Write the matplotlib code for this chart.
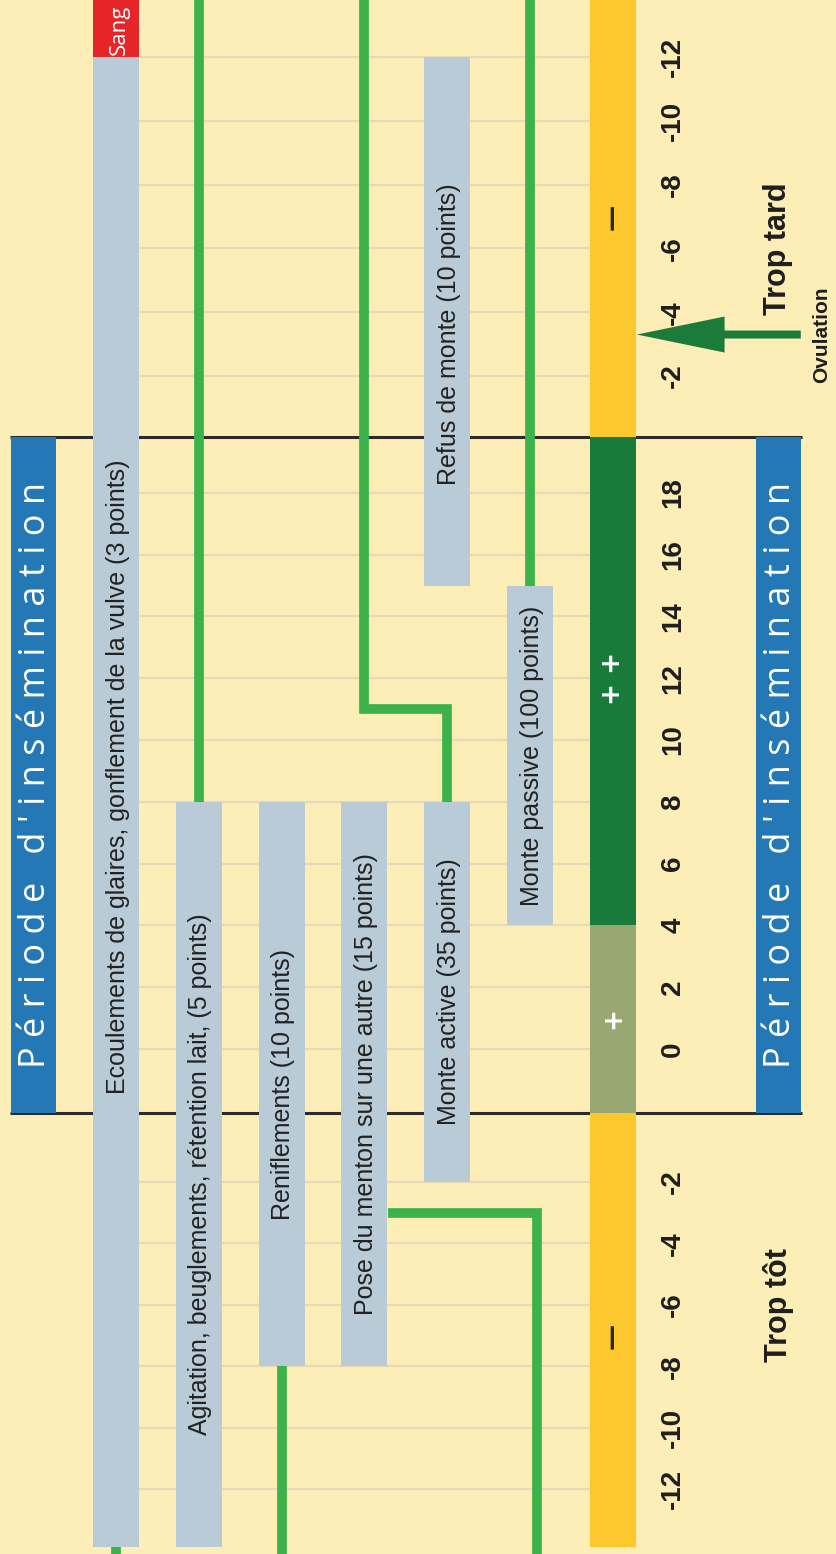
import matplotlib.pyplot as plt
from matplotlib.patches import FancyArrow

# ---- data -------------------------------------------------------------
early_ticks = [-12, -10, -8, -6, -4, -2]
insem_ticks = [0, 2, 4, 6, 8, 10, 12, 14, 16, 18]
late_ticks = [-2, -4, -6, -8, -10, -12]

sign_labels = [
    "Ecoulements de glaires, gonflement de la vulve (3 points)",
    "Agitation, beuglements, rétention lait, (5 points)",
    "Reniflements (10 points)",
    "Pose du menton sur une autre (15 points)",
    "Monte active (35 points)",
    "Refus de monte (10 points)",
    "Monte passive (100 points)",
]
sign_cols = [0, 1, 2, 3, 4, 4, 5]
sign_from = [('early', -13.9), ('early', -13.9), ('early', -8), ('early', -8),
             ('early', -2), ('insem', 15), ('insem', 4)]
sign_to = [('late', -12), ('insem', 8), ('insem', 8), ('insem', 8),
           ('insem', 8), ('late', -12), ('insem', 15)]
sign_text_at = [('insem', 8.8), None, None, None, None, ('late', -3.3), None]

blood_label = "Sang"
blood_from = ('late', -12)
blood_to = ('late', -13.8)

status_marks = ["—", "+", "+ +", "—"]
status_from = [('early', -13.9), ('insem', -2.07), ('insem', 4), ('insem', 19.8)]
status_to = [('insem', -2.07), ('insem', 4), ('insem', 19.8), ('late', -13.8)]
status_mark_at = [('early', -7), ('insem', 1), ('insem', 12), ('late', -7)]

green_paths = [
    [(0, 'early', -13.9), (0, 'early', -14.3)],
    [(1, 'insem', 8), (1, 'late', -13.9)],
    [(2, 'early', -8), (2, 'early', -14.3)],
    [(3.28, 'early', -3), (5.08, 'early', -3), (5.08, 'early', -14.3)],
    [(4, 'insem', 8), (4, 'insem', 11), (3, 'insem', 11), (3, 'late', -13.9)],
    [(5, 'insem', 15), (5, 'late', -13.9)],
]

header_text = "Période d'insémination"
period_bounds = (('insem', -2.07), ('insem', 19.8))
too_early = ("Trop tôt", ('early', -6))
too_late = ("Trop tard", ('late', -6))
ovulation = ("Ovulation", ('late', -3.3))

# ---- style ------------------------------------------------------------
BG = '#fdedb7'
BAR = '#b8cbd6'
GRID = '#e8dab8'
GREEN = '#3cb24a'
BLUE = '#2378b5'
status_colors = ['#fdc82e', '#99a873', '#187b3a', '#fdc82e']
status_text_colors = ['#2a2a2a', 'white', 'white', '#2a2a2a']
NARROW = ['Liberation Sans', 'DejaVu Sans']
W = 0.556


def pos(sec, h):
    # vertical position (pixels from bottom) for an hour in a section
    if sec == 'early':
        return 65 + (h + 12) * 30.7
    if sec == 'insem':
        return 505 + h * 30.9
    return 1178 + (-2 - h) * 31.9


fig = plt.figure(figsize=(8.36, 15.54), dpi=100, facecolor=BG)
ax = fig.add_axes([0, 0, 1, 1])
ax.set_facecolor(BG)
ax.set_xlim(-116 / 82.8, (836 - 116) / 82.8)
ax.set_ylim(0, 1554)
ax.axis('off')

# grid lines at every tick
grid_y = [pos('early', t) for t in early_ticks] + \
         [pos('insem', t) for t in insem_ticks] + \
         [pos('late', t) for t in late_ticks]
ax.hlines(grid_y, -W / 2, 6 - W / 2, color=GRID, lw=1.6, zorder=1)

# period boundaries
b0, b1 = pos(*period_bounds[0]), pos(*period_bounds[1])
ax.hlines([b0, b1], -1.28, 8.28, color='#2b2b2b', lw=2.2, zorder=1.5)

# headers
ax.bar([-1, 8], b1 - b0, bottom=b0, width=0.545, color=BLUE, zorder=3)
spaced = '   '.join(' '.join(w) for w in header_text.split(' '))
for xc in (-1, 8):
    ax.text(xc + 0.03, (b0 + b1) / 2, spaced, rotation=90, rotation_mode='anchor',
            ha='center', va='center', color='white', fontsize=26,
            family=['Open Sans', 'DejaVu Sans'], zorder=4)

# green connectors
for path in green_paths:
    xs = [p[0] for p in path]
    ys = [pos(p[1], p[2]) for p in path]
    ax.plot(xs, ys, color=GREEN, lw=7, solid_joinstyle='miter',
            solid_capstyle='butt', zorder=2)

# sign bars
for lab, col, a, b, ta in zip(sign_labels, sign_cols, sign_from, sign_to, sign_text_at):
    y0, y1 = pos(*a), pos(*b)
    ax.bar(col, y1 - y0, bottom=y0, width=W, color=BAR, zorder=3)
    yt = pos(*ta) if ta else (y0 + y1) / 2
    ax.text(col + 0.02, yt, lab, rotation=90, rotation_mode='anchor', ha='center',
            va='center', fontsize=18, color='#222222', family=NARROW, zorder=4)

y0, y1 = pos(*blood_from), pos(*blood_to)
ax.bar(0, y1 - y0, bottom=y0, width=W, color='#e52528', zorder=3)
ax.text(0.04, y0 + 2, blood_label, rotation=90, rotation_mode='anchor', ha='left',
        va='center', fontsize=16, color='white', family=['Open Sans', 'DejaVu Sans'],
        zorder=4)

# status column
for m, a, b, at, c, tc in zip(status_marks, status_from, status_to, status_mark_at,
                              status_colors, status_text_colors):
    y0, y1 = pos(*a), pos(*b)
    ax.bar(6, y1 - y0, bottom=y0, width=W, color=c, zorder=3)
    ax.text(6, pos(*at), m, rotation=90, rotation_mode='anchor', ha='center',
            va='center', fontsize=19, fontweight='bold', color=tc,
            family=['DejaVu Sans'], zorder=4)

# tick labels
for sec, ticks in (('early', early_ticks), ('insem', insem_ticks), ('late', late_ticks)):
    for t in ticks:
        ax.text(6.73, pos(sec, t), str(t), rotation=90, rotation_mode='anchor',
                ha='center', va='center', fontsize=20, fontweight='bold',
                color='#1e1e1e', family=NARROW)

# side labels
for lab, at in (too_early, too_late):
    ax.text(8.0, pos(*at), lab, rotation=90, rotation_mode='anchor', ha='center',
            va='center', fontsize=22, fontweight='bold', color='#1e1e1e', family=NARROW)

ya = pos(*ovulation[1])
ax.add_patch(FancyArrow(8.27, ya, -1.98, 0, width=8, head_width=36,
                        head_length=1.06, length_includes_head=True,
                        color='#1a7b3b', lw=0, zorder=4))
ax.text(8.52, ya, ovulation[0], rotation=90, rotation_mode='anchor', ha='center',
        va='center', fontsize=15, fontweight='bold', color='#1e1e1e', family=NARROW)

fig.savefig('out.png', dpi=100, facecolor=BG)
